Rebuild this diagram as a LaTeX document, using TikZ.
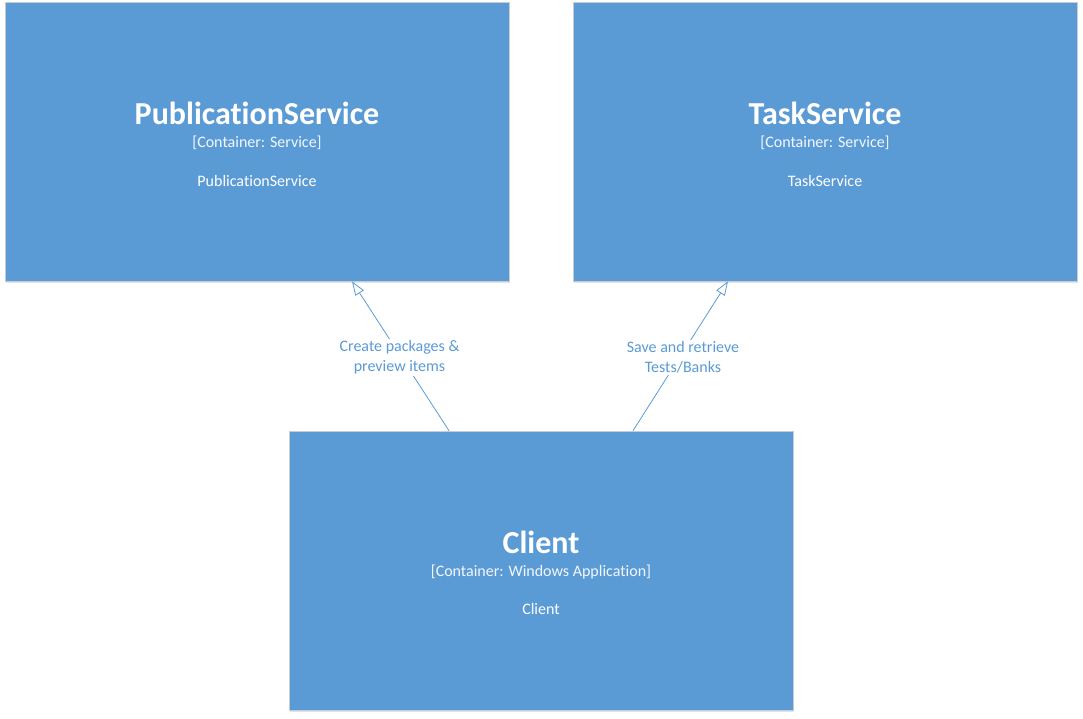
\documentclass[tikz,border=0pt]{standalone}
\usepackage{fontspec}
\setmainfont{Carlito}[Ligatures=NoCommon]
\usetikzlibrary{arrows.meta,calc,shadows}
\definecolor{boxblue}{HTML}{5B9BD5}
\definecolor{boxedge}{HTML}{C8CCD2}
\definecolor{shadowgrey}{HTML}{B8C4D2}
\definecolor{linkblue}{HTML}{5B9BD5}
\begin{document}
\begin{tikzpicture}[x=1pt,y=-1pt,
  container/.style={rectangle, fill=boxblue, draw=boxedge, line width=0.6pt,
    minimum width=504pt, minimum height=279pt, inner sep=0pt,
    drop shadow={shadow xshift=1pt, shadow yshift=-2pt, fill=shadowgrey, opacity=0.45}},
  title/.style={text=white, font=\fontsize{32}{38}\selectfont\bfseries, inner sep=0pt},
  kind/.style={text=white!92!boxblue, font=\fontsize{16}{19}\selectfont, inner sep=0pt},
  descr/.style={text=white, font=\fontsize{16}{19}\selectfont, inner sep=0pt},
  link/.style={draw=linkblue, line width=0.8pt, -{Triangle[open, length=14pt, width=10pt]}},
  linklabel/.style={fill=white, text=linkblue, font=\fontsize{16}{20}\selectfont,
    align=center, inner sep=2pt}
]
\useasboundingbox (0,0) rectangle (1083,718);

% containers
\node[container] (pub)  at (257,141.5) {};
\node[container] (task) at (825,141.5) {};
\node[container] (client) at (541,570.5) {};

% container texts
\node[title] (pubT) at ($(pub.center)+(0,-28)$) {PublicationService};
\node[kind]  (pubK) at ($(pub.center)+(0,1)$) {[Container: Service]};
\node[descr] (pubD) at ($(pub.center)+(0,39)$) {PublicationService};

\node[title] (taskT) at ($(task.center)+(0,-28)$) {TaskService};
\node[kind]  (taskK) at ($(task.center)+(0,1)$) {[Container: Service]};
\node[descr] (taskD) at ($(task.center)+(0,39)$) {TaskService};

\node[title] (clientT) at ($(client.center)+(0,-28)$) {Client};
\node[kind]  (clientK) at ($(client.center)+(0,1)$) {[Container: Windows Application]};
\node[descr] (clientD) at ($(client.center)+(0,38)$) {Client};

% connector end points
\coordinate (c1s) at ($(client.north)+(-92,0)$);
\coordinate (c1e) at ($(pub.south)+(95,0)$);
\coordinate (c2s) at ($(client.north)+(92,0)$);
\coordinate (c2e) at ($(task.south)+(-97,0)$);

% relationships
\draw[link] (c1s) -- (c1e)
  node[midway, linklabel, yshift=-1.5pt, xshift=-1pt] (l1) {Create packages \&\\preview items};
\draw[link] (c2s) -- (c2e)
  node[midway, linklabel, yshift=-1.5pt, xshift=2.5pt] (l2) {Save and retrieve\\Tests/Banks};
\end{tikzpicture}
\end{document}
